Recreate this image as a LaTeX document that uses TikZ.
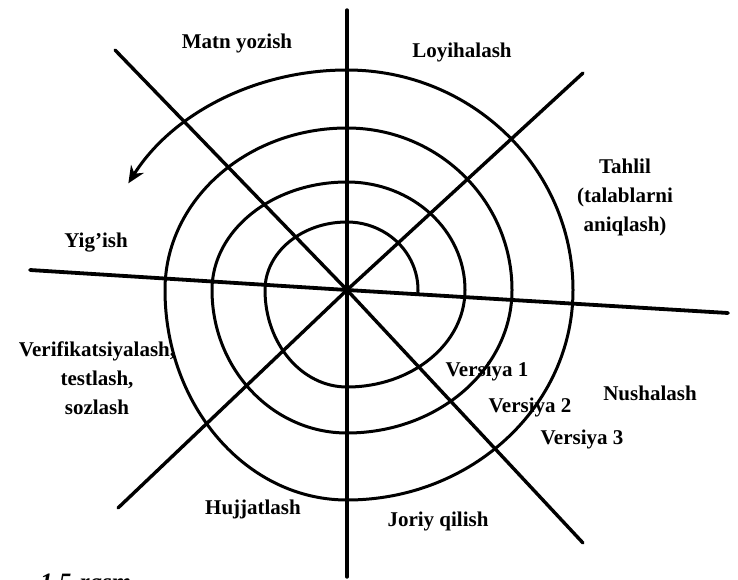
\documentclass[tikz,border=0pt]{standalone}
\usepackage{fontspec}
\setmainfont{Liberation Serif}
\usepackage{tikz}
\usetikzlibrary{arrows.meta, positioning}

\begin{document}
\begin{tikzpicture}[
        x=1pt, y=1pt,
        spoke/.style={line width=3.4pt, line cap=round},
        ring/.style={line width=3pt},
        lbl/.style={font=\bfseries\fontsize{21}{29}\selectfont, align=center, inner sep=0pt}
    ]
    \useasboundingbox (0,0) rectangle (738,579);

    % centre and spoke ends
    \coordinate (c) at (347,289);
    \coordinate (top) at (347,569);
    \coordinate (bottom) at (347,2);
    \coordinate (west) at (30,309);
    \coordinate (east) at (728,266);
    \coordinate (nw) at (115,529);
    \coordinate (se) at (583,36);
    \coordinate (ne) at (583,506);
    \coordinate (sw) at (118,71);

    \draw[spoke] (top) -- (c) -- (bottom);
    \draw[spoke, line width=3.8pt] (west) -- (c) -- (east);
    \draw[spoke] (nw) -- (c) -- (se);
    \draw[spoke] (ne) -- (c) -- (sw);

    % spiral, quarter by quarter
    \draw[ring, -{Stealth[length=17pt, width=15pt]}] (c) ++(-4:71pt and 68pt)
        arc[start angle=-4, end angle=90, x radius=71pt, y radius=68pt]
        arc[start angle=90, end angle=180, x radius=82pt, y radius=68pt]
        arc[start angle=180, end angle=270, x radius=82pt, y radius=97pt]
        arc[start angle=270, end angle=360, x radius=118pt, y radius=97pt]
        arc[start angle=0, end angle=90, x radius=118pt, y radius=108pt]
        arc[start angle=90, end angle=180, x radius=135pt, y radius=108pt]
        arc[start angle=180, end angle=270, x radius=135pt, y radius=143pt]
        arc[start angle=270, end angle=360, x radius=165pt, y radius=143pt]
        arc[start angle=0, end angle=90, x radius=165pt, y radius=162pt]
        arc[start angle=90, end angle=180, x radius=182pt, y radius=162pt]
        arc[start angle=180, end angle=270, x radius=182pt, y radius=210pt]
        arc[start angle=270, end angle=360, x radius=226pt, y radius=210pt]
        arc[start angle=0, end angle=90, x radius=226pt, y radius=220pt]
        arc[start angle=90, end angle=151, x radius=250pt, y radius=220pt];

    % phases
    \node[lbl] (matn) at (237,536) {Matn yozish};
    \node[lbl] (loyiha) at (462,527) {Loyihalash};
    \node[lbl] (tahlil) at (625,382) {Tahlil\\(talablarni\\aniqlash)};
    \node[lbl] (yigish) at (96,336) {Yig’ish};
    \node[lbl] (verif) at (97,201) {Verifikatsiyalash,\\testlash,\\sozlash};
    \node[lbl] (nusha) at (650,186) {Nushalash};
    \node[lbl] (hujjat) at (253,70) {Hujjatlash};
    \node[lbl] (joriy) at (438,58) {Joriy qilish};

    % versions
    \node[lbl] (v1) at (487,208) {Versiya 1};
    \node[lbl] (v2) at (530,172) {Versiya 2};
    \node[lbl] (v3) at (582,140) {Versiya 3};

    \node[lbl, anchor=base west, font=\bfseries\itshape\fontsize{25}{29}\selectfont] (rasm) at (40,-11) {1.5-rasm.};
\end{tikzpicture}
\end{document}
